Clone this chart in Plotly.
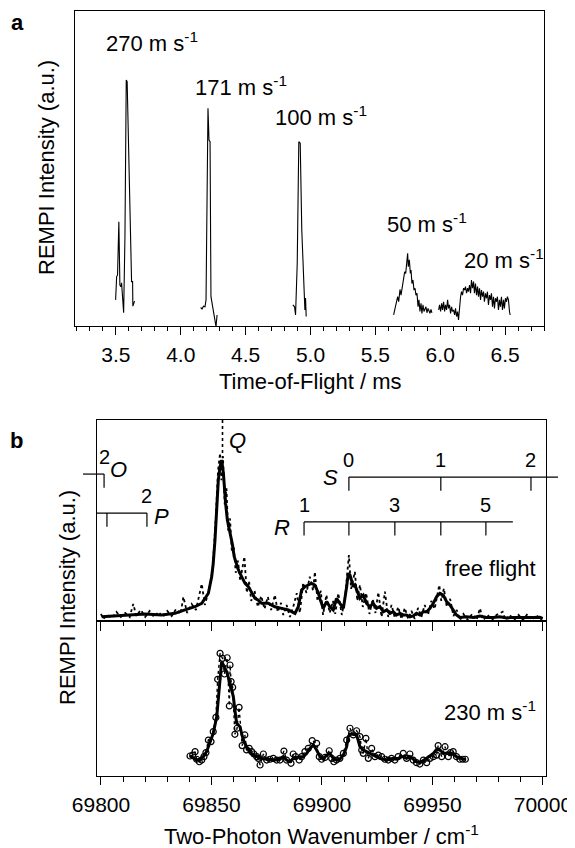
import plotly.graph_objects as go

# ---------------- data: panel a (time-of-flight traces, ms vs a.u.) ----------------
tof_270_x = [3.498, 3.506, 3.513, 3.523, 3.531, 3.539, 3.544, 3.552, 3.560, 3.570, 3.580, 3.587,
             3.600, 3.610, 3.621, 3.629, 3.631, 3.644]
tof_270_y = [8.3, 15.7, 16.2, 33.1, 13.0, 12.5, 13.7, 7.3, 4.2, 28.3, 78.1, 77.6,
             54.9, 33.7, 14.1, 14.1, 6.3, 7.9]

tof_171_x = [4.154, 4.164, 4.175, 4.187, 4.195, 4.203, 4.210, 4.218, 4.226, 4.233, 4.249, 4.262, 4.272, 4.280]
tof_171_y = [5.9, 5.3, 6.3, 6.1, 8.3, 39.0, 69.1, 59.0, 58.5, 9.3, 5.1, 3.0, -0.2, 3.5]

tof_100_x = [4.864, 4.877, 4.885, 4.898, 4.910, 4.921, 4.933, 4.949, 4.957, 4.962, 4.967]
tof_100_y = [6.7, 6.1, 3.5, 20.0, 58.5, 58.0, 30.5, 8.3, 5.1, 8.9, 3.0]

tof_50_x = [5.641, 5.659, 5.672, 5.680, 5.690, 5.698, 5.706, 5.713, 5.718, 5.726, 5.734, 5.741,
            5.749, 5.754, 5.762, 5.770, 5.775, 5.782, 5.790, 5.798, 5.806, 5.813, 5.821, 5.829,
            5.836, 5.844, 5.852, 5.859, 5.867, 5.875, 5.882, 5.890, 5.898, 5.906, 5.913, 5.921,
            5.929, 5.936]
tof_50_y = [3.5, 6.7, 9.3, 7.7, 11.6, 9.8, 12.0, 13.0, 15.7, 17.2, 16.7, 19.9,
            23.1, 18.8, 21.0, 16.7, 17.8, 13.5, 14.6, 11.4, 12.0, 9.8, 10.4, 6.1,
            8.3, 4.6, 7.2, 4.0, 6.7, 4.6, 5.6, 6.1, 4.2, 5.6, 4.9, 4.0,
            5.3, 4.2]

tof_20_x = [5.988, 5.995, 6.003, 6.011, 6.018, 6.026, 6.034, 6.041, 6.049, 6.057, 6.064, 6.072,
            6.080, 6.088, 6.095, 6.103, 6.111, 6.118, 6.126, 6.134, 6.141, 6.149, 6.157, 6.164,
            6.172, 6.180, 6.188, 6.195, 6.203, 6.211, 6.218, 6.226, 6.234, 6.241, 6.249, 6.257,
            6.264, 6.272, 6.280, 6.288, 6.295, 6.303, 6.311, 6.318, 6.326, 6.334, 6.341, 6.349,
            6.357, 6.364, 6.372, 6.380, 6.388, 6.395, 6.403, 6.411, 6.418, 6.426, 6.434, 6.441,
            6.449, 6.457, 6.464, 6.472, 6.480, 6.488, 6.495, 6.503, 6.511, 6.518, 6.526, 6.534,
            6.539]
tof_20_y = [5.1, 6.7, 4.6, 7.2, 5.1, 7.7, 4.6, 6.7, 5.1, 8.3, 5.6, 6.7,
            4.0, 6.1, 4.6, 5.1, 3.5, 5.6, 3.0, 4.6, 1.9, 7.2, 9.3, 10.9,
            9.8, 12.0, 11.4, 12.5, 10.4, 12.0, 10.9, 13.0, 10.4, 14.6, 12.0, 14.1,
            10.4, 13.5, 9.8, 12.5, 9.3, 12.0, 8.3, 11.4, 9.3, 10.9, 7.7, 10.4,
            8.8, 10.9, 6.7, 9.8, 8.3, 10.4, 6.1, 9.3, 5.6, 8.8, 7.7, 9.3,
            5.1, 8.3, 6.1, 9.3, 5.1, 8.3, 5.6, 8.8, 7.7, 9.3, 8.3, 4.6,
            3.5]

tof_labels = ["270 m s<sup>-1</sup>", "171 m s<sup>-1</sup>", "100 m s<sup>-1</sup>",
              "50 m s<sup>-1</sup>", "20 m s<sup>-1</sup>"]

# ---------------- data: panel b (REMPI spectra, cm-1 vs a.u.) ----------------
ff_fit_x = [69800.3, 69806.4, 69812.4, 69819.9, 69827.5, 69833.5, 69838.0, 69842.5, 69845.6, 69848.6,
            69850.1, 69850.8, 69851.6, 69852.4, 69853.1, 69853.9, 69854.6, 69855.4, 69855.8, 69856.4,
            69857.2, 69857.9, 69858.7, 69859.4, 69860.3, 69861.4, 69862.2, 69863.7, 69865.2, 69866.7,
            69868.2, 69869.7, 69871.2, 69872.7, 69875.7, 69878.7, 69881.8, 69884.8, 69887.8, 69889.3,
            69890.8, 69892.3, 69893.8, 69895.3, 69896.8, 69898.4, 69899.1, 69900.6, 69902.1, 69903.6,
            69905.1, 69906.6, 69908.1, 69909.7, 69911.2, 69911.9, 69912.7, 69913.4, 69914.2, 69914.9,
            69915.7, 69917.2, 69918.7, 69920.2, 69921.7, 69923.2, 69924.7, 69926.2, 69927.8, 69929.3,
            69930.8, 69932.3, 69933.8, 69935.3, 69936.8, 69938.3, 69939.8, 69941.3, 69942.8, 69944.3,
            69945.9, 69947.4, 69948.9, 69950.4, 69951.9, 69953.4, 69954.9, 69956.4, 69957.9, 69959.4,
            69960.9, 69962.4, 69965.5, 69968.5, 69971.5, 69974.5, 69977.5, 69980.5, 69983.6, 69986.6,
            69989.6, 69992.6, 69995.6, 69998.6, 69999.9]
ff_fit_y = [2.1, 2.5, 3.0, 3.5, 3.0, 3.8, 5.5, 7.1, 8.8, 13.8,
            22.0, 28.7, 40.3, 56.9, 70.1, 76.8, 80.1, 73.5, 66.8, 58.5,
            50.2, 46.9, 41.9, 38.6, 32.0, 28.7, 25.4, 22.0, 18.7, 17.1,
            13.8, 11.3, 10.4, 8.8, 8.8, 7.1, 6.3, 5.5, 3.8, 7.1,
            15.4, 17.1, 17.9, 18.7, 17.9, 13.8, 11.0, 6.3, 9.6, 7.1,
            5.5, 11.3, 8.8, 6.3, 17.1, 23.7, 22.9, 20.4, 17.1, 17.9,
            15.4, 11.3, 12.9, 8.8, 7.1, 8.8, 6.3, 7.1, 4.6, 5.5,
            3.8, 4.6, 3.0, 3.8, 3.0, 3.0, 2.1, 2.5, 3.8, 3.0,
            4.6, 4.6, 6.3, 8.8, 12.1, 13.8, 12.9, 9.6, 8.0, 5.5,
            3.0, 1.8, 2.1, 1.8, 2.5, 1.8, 1.7, 2.1, 1.5, 1.8,
            1.7, 1.8, 1.7, 1.8, 1.3]

ff_raw_x = [69800.0, 69801.0, 69803.0, 69805.0, 69807.0, 69809.0, 69811.0, 69813.0, 69814.6, 69816.0,
            69818.0, 69820.0, 69822.0, 69824.0, 69826.0, 69828.0, 69830.0, 69832.0, 69834.0, 69836.0,
            69837.3, 69839.0, 69841.0, 69843.0, 69845.6, 69847.0, 69849.0, 69850.5, 69852.0, 69853.0,
            69853.9, 69854.5, 69855.2, 69856.0, 69856.8, 69857.5, 69858.4, 69859.2, 69860.0, 69861.0,
            69862.0, 69863.0, 69864.9, 69866.0, 69867.0, 69868.0, 69869.5, 69871.0, 69872.5, 69874.0,
            69875.5, 69877.0, 69878.7, 69880.0, 69881.5, 69882.5, 69884.0, 69885.5, 69887.0, 69888.6,
            69890.0, 69891.5, 69893.0, 69894.5, 69896.0, 69896.8, 69898.0, 69899.5, 69900.5, 69902.0,
            69903.5, 69905.0, 69906.0, 69907.4, 69909.0, 69910.5, 69912.2, 69913.2, 69914.9, 69916.0,
            69917.2, 69918.5, 69920.0, 69921.5, 69923.0, 69924.2, 69925.5, 69927.0, 69928.5, 69930.0,
            69931.5, 69933.0, 69934.5, 69936.0, 69937.5, 69939.0, 69940.5, 69942.0, 69943.5, 69945.0,
            69946.5, 69948.0, 69949.5, 69951.0, 69953.1, 69954.0, 69955.2, 69956.5, 69958.0, 69959.5,
            69961.0, 69962.5, 69964.0, 69966.0, 69968.0, 69970.0, 69971.5, 69973.0, 69975.0, 69977.0,
            69979.0, 69981.8, 69983.0, 69985.0, 69987.0, 69989.0, 69991.0, 69993.0, 69995.0, 69997.0,
            69999.0, 70000.0]
ff_raw_y = [3.5, 1.0, 3.0, 1.5, 4.5, 2.0, 4.0, 2.0, 8.5, 2.5,
            5.5, 2.0, 5.0, 2.0, 4.5, 2.0, 5.0, 2.5, 6.0, 3.5,
            12.0, 4.0, 8.5, 5.5, 18.5, 8.0, 16.0, 25.0, 52.0, 75.0,
            83.5, 70.0, 82.0, 58.0, 66.0, 45.0, 51.0, 35.0, 38.0, 24.0,
            30.0, 20.0, 32.0, 14.0, 20.0, 10.0, 15.0, 7.0, 12.5, 6.0,
            12.0, 5.5, 13.0, 4.5, 9.0, 3.0, 8.0, 2.0, 7.0, 13.8,
            4.0, 19.0, 14.0, 22.0, 15.0, 24.5, 10.0, 15.0, 3.0, 13.0,
            4.0, 10.0, 3.5, 13.8, 3.0, 12.0, 32.8, 16.0, 24.5, 10.0,
            18.0, 7.0, 14.0, 3.5, 11.0, 4.0, 14.3, 2.0, 14.6, 2.0,
            8.0, 1.5, 7.0, 1.0, 6.5, 1.0, 5.0, 1.0, 6.5, 2.0,
            8.0, 3.0, 10.0, 6.0, 17.9, 10.0, 16.2, 7.0, 11.0, 2.5,
            5.5, 0.5, 3.5, 0.5, 3.5, 0.5, 6.3, 0.5, 3.0, 0.5,
            3.0, 4.6, 0.5, 3.0, 0.5, 3.0, 0.5, 3.5, 0.5, 3.0,
            0.5, 2.5]

mb_fit_x = [69840.3, 69841.8, 69843.3, 69844.8, 69846.3, 69847.8, 69849.3, 69850.8, 69852.4, 69853.1,
            69853.9, 69854.6, 69855.4, 69856.9, 69858.4, 69859.9, 69860.6, 69861.4, 69862.9, 69863.7,
            69864.4, 69865.9, 69867.4, 69868.9, 69870.5, 69872.0, 69875.0, 69878.0, 69881.0, 69882.5,
            69884.0, 69885.5, 69887.0, 69890.1, 69891.6, 69893.1, 69894.6, 69896.1, 69897.6, 69899.1,
            69900.6, 69902.1, 69903.6, 69905.1, 69906.6, 69908.1, 69909.7, 69911.2, 69911.9, 69912.7,
            69914.2, 69915.7, 69917.2, 69918.7, 69920.2, 69921.7, 69923.2, 69924.7, 69926.2, 69927.8,
            69929.3, 69930.8, 69932.3, 69933.8, 69935.3, 69936.8, 69938.3, 69939.8, 69941.3, 69942.8,
            69944.3, 69945.9, 69947.4, 69948.9, 69950.4, 69951.9, 69953.4, 69954.9, 69956.4, 69957.9,
            69959.4, 69960.9, 69962.4, 69963.9, 69965.2]
mb_fit_y = [12.9, 11.4, 10.3, 10.8, 12.5, 15.7, 21.1, 27.5, 38.3, 49.0,
            64.1, 73.8, 71.6, 67.3, 59.8, 51.2, 42.6, 34.0, 31.8, 27.5,
            23.2, 18.9, 15.7, 13.5, 12.5, 11.4, 10.8, 10.3, 10.8, 12.5,
            10.3, 9.2, 11.4, 12.5, 12.5, 14.6, 17.8, 20.0, 16.8, 12.5,
            10.8, 13.5, 14.6, 11.4, 10.3, 10.8, 13.5, 18.9, 25.4, 26.9,
            26.9, 26.5, 18.9, 16.8, 15.7, 14.6, 13.5, 12.5, 11.4, 10.8,
            10.3, 10.8, 11.4, 10.8, 12.0, 12.5, 11.4, 12.5, 10.8, 9.2,
            8.6, 9.9, 11.4, 12.9, 14.6, 17.2, 16.8, 14.6, 14.6, 15.1,
            14.2, 12.5, 11.4, 10.8, 10.8]

mb_raw_x = [69840.3, 69841.5, 69842.6, 69843.3, 69844.5, 69845.6, 69846.6, 69847.5, 69848.6, 69849.8,
            69850.8, 69852.0, 69852.8, 69853.9, 69855.0, 69855.9, 69857.1, 69858.1, 69858.4, 69858.9,
            69859.6, 69860.6, 69861.6, 69862.5, 69863.9, 69865.1, 69865.9, 69867.1, 69868.2, 69869.2,
            69870.5, 69871.2, 69872.0, 69873.5, 69875.0, 69876.5, 69878.0, 69879.5, 69881.0, 69882.8,
            69884.0, 69886.0, 69887.0, 69888.1, 69889.7, 69890.8, 69892.3, 69893.8, 69895.6, 69897.6,
            69898.8, 69899.9, 69901.4, 69903.3, 69904.4, 69905.4, 69906.6, 69908.1, 69909.7, 69911.2,
            69912.7, 69914.2, 69915.7, 69917.2, 69918.0, 69918.7, 69919.9, 69921.0, 69922.5, 69924.0,
            69925.5, 69927.0, 69928.5, 69930.0, 69931.5, 69933.0, 69934.5, 69936.8, 69938.3, 69939.8,
            69941.3, 69942.8, 69944.3, 69945.9, 69947.4, 69948.9, 69950.4, 69951.9, 69952.6, 69954.2,
            69955.7, 69957.2, 69958.2, 69959.4, 69960.9, 69962.4, 69963.7, 69964.9]
mb_raw_y = [12.9, 13.5, 15.7, 10.8, 9.2, 10.3, 12.5, 15.1, 23.2, 22.2,
            28.6, 37.8, 62.4, 79.1, 75.9, 65.8, 76.3, 45.2, 71.6, 60.9,
            57.2, 26.9, 30.8, 44.3, 19.6, 26.5, 16.8, 17.8, 15.7, 14.2,
            12.5, 11.4, 7.1, 14.2, 10.3, 10.8, 11.4, 10.3, 10.3, 16.1,
            10.3, 8.2, 14.2, 12.5, 10.3, 12.5, 15.7, 17.8, 22.8, 21.1,
            12.5, 10.8, 12.0, 16.3, 11.4, 9.2, 10.3, 11.4, 14.6, 23.2,
            30.8, 26.5, 29.2, 25.4, 16.8, 14.6, 24.3, 11.4, 17.8, 12.5,
            13.5, 12.5, 10.8, 10.3, 11.4, 10.3, 12.5, 14.6, 11.4, 14.2,
            10.3, 8.6, 7.7, 10.3, 8.6, 11.4, 12.5, 13.5, 19.6, 12.5,
            18.9, 12.5, 15.1, 15.7, 12.5, 10.8, 10.8, 10.8]

# rotational branch assignments (cm-1)
branch_O = [69801.4]
branch_P = [69802.7, 69820.8]
branch_Q = 69855.0
branch_R = [69891.9, 69912.2, 69933.0, 69953.8, 69974.2]
branch_S = [69912.2, 69953.8, 69994.6]
R_labels = ["1", "", "3", "", "5"]
S_labels = ["0", "1", "2"]

# ---------------- layout geometry ----------------
W, H = 575, 848
OFF = 8          # page body margin in the browser
FONT = "Liberation Sans, Arial, sans-serif"
BLACK = "#000000"

def pxx(x):
    return (x - OFF) / W

def pxy(y):
    return 1 - (y - OFF) / H

dom_top_x = [pxx(75), pxx(544)]
dom_top_y = [pxy(326), pxy(11)]
dom_b_x = [pxx(97), pxx(546)]
dom_b1_y = [pxy(621), pxy(420)]
dom_b2_y = [pxy(776), pxy(621)]
tof_range = [3.185, 6.80]
wn_range = [69798.2, 70001.4]

def wn_to_paper(v):
    return dom_b_x[0] + (v - wn_range[0]) / (wn_range[1] - wn_range[0]) * (dom_b_x[1] - dom_b_x[0])

def b1_to_paper(v):
    return dom_b1_y[0] + v / 100.0 * (dom_b1_y[1] - dom_b1_y[0])

fig = go.Figure()

thin = dict(color=BLACK, width=1.1)
for xs, ys in [(tof_270_x, tof_270_y), (tof_171_x, tof_171_y), (tof_100_x, tof_100_y),
               (tof_50_x, tof_50_y), (tof_20_x, tof_20_y)]:
    fig.add_trace(go.Scatter(x=xs, y=ys, mode="lines", line=thin, xaxis="x", yaxis="y",
                             showlegend=False, hoverinfo="skip"))

fig.add_trace(go.Scatter(x=ff_raw_x, y=ff_raw_y, mode="lines",
                         line=dict(color=BLACK, width=1.8, dash="dot"),
                         xaxis="x2", yaxis="y2", showlegend=False, hoverinfo="skip"))
fig.add_trace(go.Scatter(x=ff_fit_x, y=ff_fit_y, mode="lines",
                         line=dict(color=BLACK, width=3),
                         xaxis="x2", yaxis="y2", showlegend=False, hoverinfo="skip"))

fig.add_trace(go.Scatter(x=mb_raw_x, y=mb_raw_y, mode="lines+markers",
                         line=dict(color=BLACK, width=1.4, dash="dot"),
                         marker=dict(symbol="circle-open", size=6, color=BLACK, line=dict(width=1.2, color=BLACK)),
                         xaxis="x3", yaxis="y3", showlegend=False, hoverinfo="skip"))
fig.add_trace(go.Scatter(x=mb_fit_x, y=mb_fit_y, mode="lines",
                         line=dict(color=BLACK, width=3),
                         xaxis="x3", yaxis="y3", showlegend=False, hoverinfo="skip"))

axis_common = dict(showline=True, linecolor=BLACK, linewidth=1, mirror=True, showgrid=False,
                   zeroline=False, tickcolor=BLACK, tickwidth=1, automargin=False,
                   tickfont=dict(family=FONT, size=21, color=BLACK))
noy = dict(showline=True, linecolor=BLACK, linewidth=1, mirror=True, showgrid=False, automargin=False,
           zeroline=False, ticks="", showticklabels=False, range=[0, 100], fixedrange=True)

annotations = []

def ann(text, x, y, size=22, xanchor="center", yanchor="middle", angle=0):
    annotations.append(dict(text=text, x=pxx(x), y=pxy(y), xref="paper", yref="paper",
                            xanchor=xanchor, yanchor=yanchor, showarrow=False, textangle=angle,
                            font=dict(family=FONT, size=size, color=BLACK)))

# panel letters & axis titles
ann("<b>a</b>", 17, 8, size=22, yanchor="top")
ann("<b>b</b>", 16, 440, size=22)
ann("REMPI Intensity (a.u.)", 47, 168, angle=-90)
ann("REMPI Intensity (a.u.)", 67, 598, angle=-90)
ann("Time-of-Flight / ms", 310, 381)
ann("Two-Photon Wavenumber / cm<sup>-1</sup>", 321, 835)

# speed labels on panel a
for text, (x, y) in zip(tof_labels, [(104, 42), (193, 86), (273, 116), (385, 223), (462, 259)]):
    ann(text, x, y, xanchor="left")

ann("free flight", 538, 568, xanchor="right")
ann("230 m s<sup>-1</sup>", 538, 711, xanchor="right")

shapes = []

def seg(x0, y0, x1, y1, dash="solid", width=1.2):
    shapes.append(dict(type="line", xref="paper", yref="paper", x0=x0, y0=y0, x1=x1, y1=y1,
                       line=dict(color=BLACK, width=width, dash=dash)))

# branch combs (heights in panel-b units)
tick_h = 6.8
O_y, P_y, S_y, R_y = 73.1, 53.7, 71.6, 49.3
seg(pxx(83), b1_to_paper(O_y), wn_to_paper(branch_O[0]), b1_to_paper(O_y))
for v in branch_O:
    seg(wn_to_paper(v), b1_to_paper(O_y), wn_to_paper(v), b1_to_paper(O_y - tick_h))
seg(wn_to_paper(wn_range[0]), b1_to_paper(P_y), wn_to_paper(branch_P[-1]), b1_to_paper(P_y))
for v in branch_P:
    seg(wn_to_paper(v), b1_to_paper(P_y), wn_to_paper(v), b1_to_paper(P_y - tick_h))
seg(wn_to_paper(branch_S[0]), b1_to_paper(S_y), pxx(558), b1_to_paper(S_y))
for v in branch_S:
    seg(wn_to_paper(v), b1_to_paper(S_y), wn_to_paper(v), b1_to_paper(S_y - tick_h))
seg(wn_to_paper(branch_R[0]), b1_to_paper(R_y), wn_to_paper(69986.4), b1_to_paper(R_y))
for v in branch_R:
    seg(wn_to_paper(v), b1_to_paper(R_y), wn_to_paper(v), b1_to_paper(R_y - tick_h))
seg(wn_to_paper(branch_Q), b1_to_paper(100), wn_to_paper(branch_Q), b1_to_paper(81), dash="dot", width=1.6)

def ann_p(text, xp, yp, size=20, italic=False):
    t = "<i>%s</i>" % text if italic else text
    annotations.append(dict(text=t, x=xp, y=yp, xref="paper", yref="paper", xanchor="center",
                            yanchor="middle", showarrow=False,
                            font=dict(family=FONT, size=size, color=BLACK)))

num_dy = 8.5
ann_p("2", wn_to_paper(branch_O[0]), b1_to_paper(O_y + num_dy))
ann_p("O", pxx(118), pxy(469), size=22, italic=True)
ann_p("2", wn_to_paper(branch_P[-1]), b1_to_paper(P_y + num_dy))
ann_p("P", pxx(161), pxy(516), size=22, italic=True)
ann_p("Q", pxx(237), pxy(440), size=22, italic=True)
ann_p("S", pxx(330), pxy(477), size=22, italic=True)
ann_p("R", pxx(282), pxy(527), size=22, italic=True)
for v, t in zip(branch_S, S_labels):
    ann_p(t, wn_to_paper(v), b1_to_paper(S_y + num_dy))
for v, t in zip(branch_R, R_labels):
    if t:
        ann_p(t, wn_to_paper(v), b1_to_paper(R_y + num_dy))

fig.update_layout(
    template="none",
    width=W, height=H, margin=dict(l=0, r=0, t=0, b=0, pad=0, autoexpand=False),
    paper_bgcolor="white", plot_bgcolor="white", showlegend=False,
    font=dict(family=FONT, color=BLACK),
    xaxis=dict(domain=dom_top_x, anchor="y", range=tof_range, ticks="outside", ticklen=8,
               tick0=3.5, dtick=0.5, tickformat=".1f", ticklabelstandoff=2,
               minor=dict(ticks="outside", ticklen=4, tick0=3.5, dtick=0.1, tickcolor=BLACK, tickwidth=1),
               **axis_common),
    yaxis=dict(domain=dom_top_y, anchor="x", **noy),
    xaxis2=dict(domain=dom_b_x, anchor="y2", range=wn_range, ticks="outside", ticklen=9,
                tick0=69800, dtick=50, showticklabels=False,
                minor=dict(ticks="outside", ticklen=4, tick0=69800, dtick=10, tickcolor=BLACK, tickwidth=1),
                **axis_common),
    yaxis2=dict(domain=dom_b1_y, anchor="x2", **noy),
    xaxis3=dict(domain=dom_b_x, anchor="y3", range=wn_range, ticks="outside", ticklen=8,
                tick0=69800, dtick=50, tickformat="d", ticklabelstandoff=2,
                minor=dict(ticks="outside", ticklen=5, tick0=69800, dtick=10, tickcolor=BLACK, tickwidth=1),
                **axis_common),
    yaxis3=dict(domain=dom_b2_y, anchor="x3", **noy),
    annotations=annotations, shapes=shapes,
)

fig.write_html("out.html")
